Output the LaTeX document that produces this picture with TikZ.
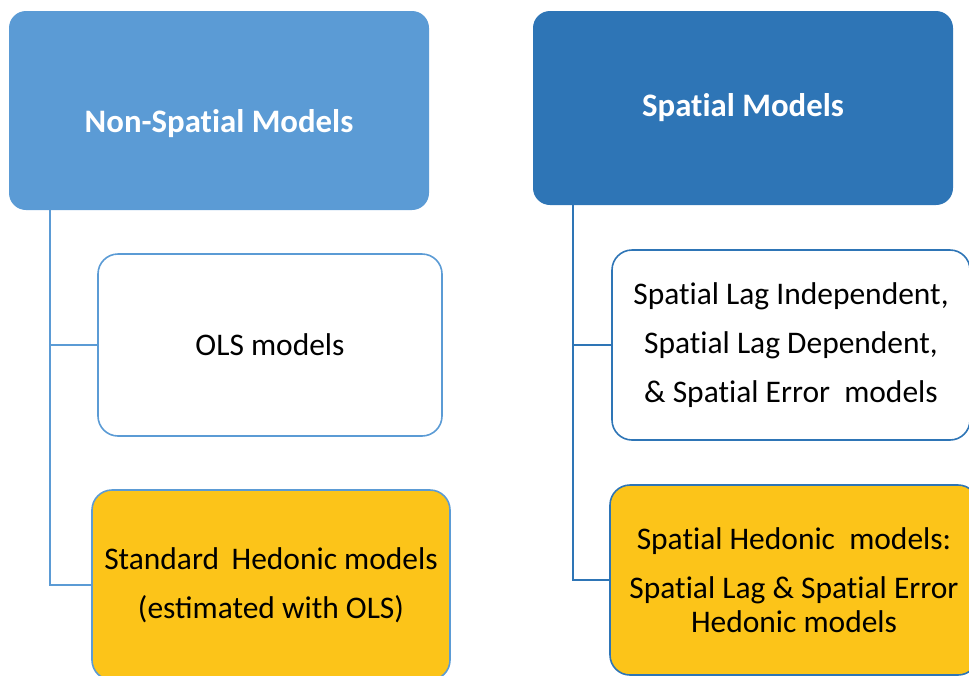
\documentclass[tikz,border=0pt]{standalone}
\usepackage{fontspec}
\setmainfont{Carlito}
\newcommand{\Spl}{Spat\kern0pt ial}
\definecolor{lblue}{HTML}{5B9BD5}
\definecolor{dblue}{HTML}{2E75B6}
\definecolor{gold}{HTML}{FCC419}
\tikzset{
  hdr/.style={rounded corners=12.75pt, inner sep=0pt, text=white, font=\fontsize{24.6}{29}\selectfont\bfseries, align=center},
  sub/.style={rounded corners=15pt, inner sep=0pt, line width=1.2pt, font=\fontsize{23.6}{36.5}\selectfont, align=center},
  conn/.style={line width=1.4pt},
}
\begin{document}
\begin{tikzpicture}[x=0.75pt,y=-0.75pt]
\useasboundingbox (0,0) rectangle (969,675);
\clip (0,0) rectangle (969,675);
% left column
\node[hdr, fill=lblue, minimum width=420*0.75pt, minimum height=199*0.75pt] (hL) at (219,110.5) {\raisebox{-16.3pt}[0pt][0pt]{Non-\Spl{} Models}};
\node[sub, draw=lblue, fill=white, minimum width=344*0.75pt, minimum height=182*0.75pt] (ols) at (270,345) {OLS models};
\node[sub, draw=lblue, fill=gold, minimum width=358*0.75pt, minimum height=190*0.75pt] (hedL) at (271,585) {Standard\hspace{0.4em}Hedonic models\\(estimated with OLS)};
\coordinate (tL) at (50,210);
\draw[conn, lblue] (tL) |- (ols.west);
\draw[conn, lblue] (tL) |- (hedL.west);
% right column
\node[hdr, fill=dblue, minimum width=420*0.75pt, minimum height=194*0.75pt] (hR) at (743,108) {\Spl{} Models};
\node[sub, draw=dblue, fill=white, minimum width=358*0.75pt, minimum height=190*0.75pt] (sp) at (791,345) {\Spl{} Lag Independent,\\\Spl{} Lag Dependent,\\\&\ \Spl{} Error\ \ models};
\node[sub, draw=dblue, fill=gold, minimum width=368*0.75pt, minimum height=190*0.75pt] (hedR) at (794,580) {\Spl{} Hedonic\ \ models:\\\Spl{} Lag \& \Spl{} Error\\[-11pt]Hedonic models};
\coordinate (tR) at (573,205);
\draw[conn, dblue] (tR) |- (sp.west);
\draw[conn, dblue] (tR) |- (hedR.west);
\end{tikzpicture}
\end{document}
